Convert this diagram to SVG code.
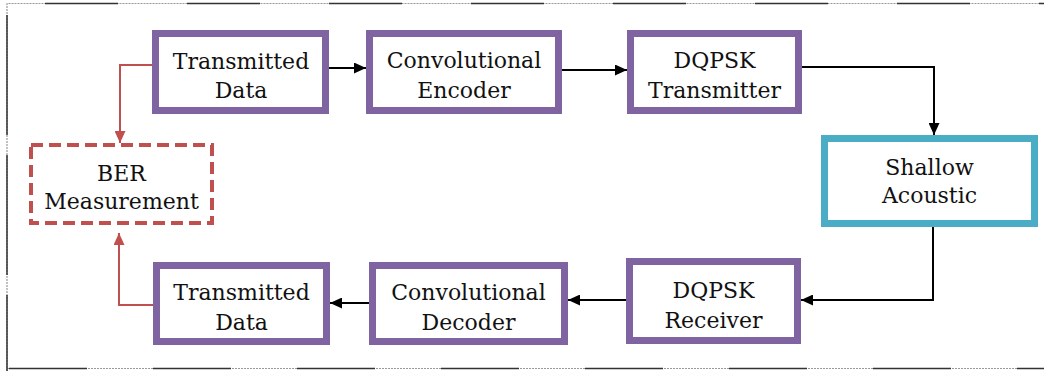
<svg xmlns="http://www.w3.org/2000/svg" width="1044" height="371" viewBox="0 0 1044 371">
<style>
.box{fill:#fff;stroke:#8064A2;stroke-width:7}
.sa{fill:#fff;stroke:#4BACC6;stroke-width:7}
.ber{fill:#fff;stroke:#C0504D;stroke-width:4;stroke-dasharray:12 6}
.t{font-family:"DejaVu Serif",serif;font-size:22px;fill:#111;text-anchor:middle}
.c{fill:none;stroke:#000;stroke-width:2}
.r{fill:none;stroke:#C0504D;stroke-width:2}
.bd{fill:none;stroke:#999;stroke-width:1.2;stroke-dasharray:2 1}
.bs{fill:none;stroke:#333;stroke-width:1.5}
</style>
<defs>
<marker id="ab" viewBox="0 0 12 11" refX="12" refY="5.5" markerWidth="12" markerHeight="11" markerUnits="userSpaceOnUse" orient="auto"><path d="M0,0 L12,5.5 L0,11 z" fill="#000"/></marker>
<marker id="ar" viewBox="0 0 12 11" refX="12" refY="5.5" markerWidth="12" markerHeight="11" markerUnits="userSpaceOnUse" orient="auto"><path d="M0,0 L12,5.5 L0,11 z" fill="#C0504D"/></marker>
</defs>
<g id="frame">
<path class="bd" d="M7,371 V3.5 H1044"/>
<path class="bd" d="M7,368.5 H1044"/>
<path class="bs" d="M45,3.5 H1044" stroke-dasharray="73 69"/>
<path class="bs" d="M9,368.5 H1044" stroke-dasharray="78 66"/>
<path class="bs" d="M7,15 V371" stroke-dasharray="120 20"/>
</g>
<g id="connectors">
<path class="c" d="M329,68 H366" marker-end="url(#ab)"/>
<path class="c" d="M562,70 H627" marker-end="url(#ab)"/>
<path class="c" d="M802,67 H934 V135" marker-end="url(#ab)"/>
<path class="c" d="M933,227 V300 H801" marker-end="url(#ab)"/>
<path class="c" d="M626,300 H568" marker-end="url(#ab)"/>
<path class="c" d="M369,303 H330" marker-end="url(#ab)"/>
<path class="r" d="M152,65 H120 V143" marker-end="url(#ar)"/>
<path class="r" d="M153,305 H119 V233" marker-end="url(#ar)"/>
</g>
<g id="tx-data">
<rect class="box" x="155.5" y="33.5" width="170" height="77"/>
<text class="t" x="241" y="69">Transmitted</text>
<text class="t" x="241" y="98">Data</text>
</g>
<g id="conv-encoder">
<rect class="box" x="369.5" y="33.5" width="189" height="77"/>
<text class="t" x="464" y="68">Convolutional</text>
<text class="t" x="464" y="98">Encoder</text>
</g>
<g id="dqpsk-tx">
<rect class="box" x="630.5" y="33.5" width="168" height="77"/>
<text class="t" x="714.5" y="68">DQPSK</text>
<text class="t" x="714.5" y="98">Transmitter</text>
</g>
<g id="shallow">
<rect class="sa" x="824.5" y="138.5" width="210" height="85"/>
<text class="t" x="929.5" y="175">Shallow</text>
<text class="t" x="929.5" y="203">Acoustic</text>
</g>
<g id="dqpsk-rx">
<rect class="box" x="629.5" y="261.5" width="168" height="79"/>
<text class="t" x="713.5" y="298">DQPSK</text>
<text class="t" x="713.5" y="328">Receiver</text>
</g>
<g id="conv-decoder">
<rect class="box" x="372.5" y="265.5" width="192" height="76"/>
<text class="t" x="468.5" y="300">Convolutional</text>
<text class="t" x="468.5" y="330">Decoder</text>
</g>
<g id="rx-data">
<rect class="box" x="156.5" y="265.5" width="170" height="76"/>
<text class="t" x="241.5" y="300">Transmitted</text>
<text class="t" x="241.5" y="330">Data</text>
</g>
<g id="ber">
<rect class="ber" x="31" y="145" width="181" height="78"/>
<text class="t" x="121.5" y="181">BER</text>
<text class="t" x="121.5" y="209">Measurement</text>
</g>
</svg>
